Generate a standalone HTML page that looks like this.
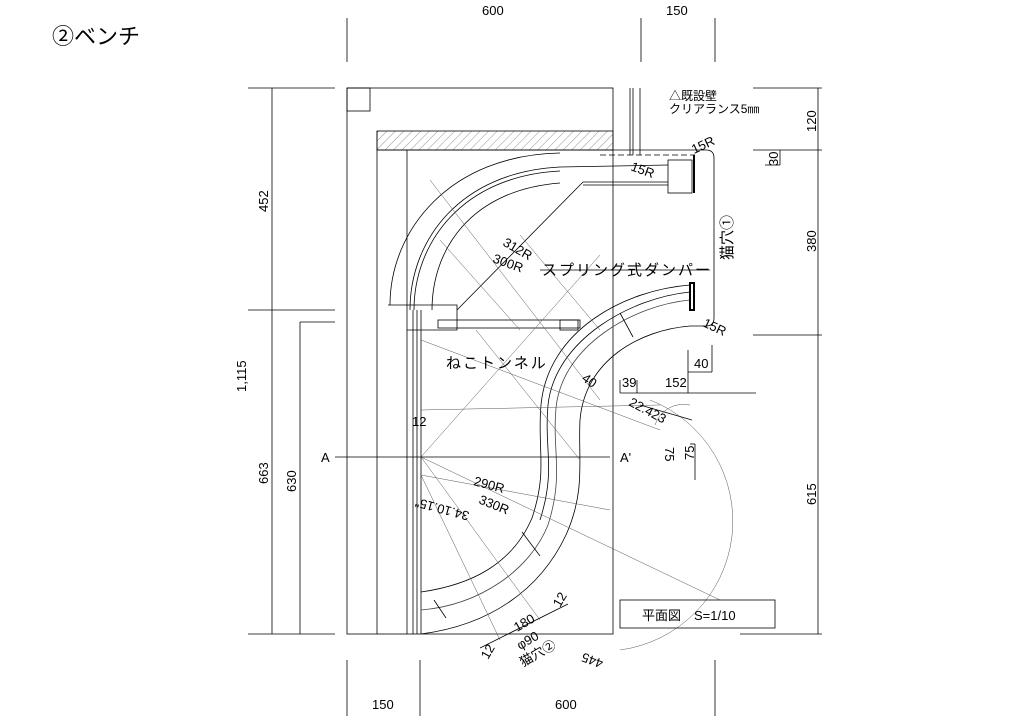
<!DOCTYPE html>
<html><head><meta charset="utf-8"><style>
html,body{margin:0;padding:0;background:#fff;}
svg{display:block;}
text{font-family:"Liberation Sans","Noto Sans CJK JP",sans-serif;fill:#000;}
</style></head><body>
<svg width="1024" height="723" viewBox="0 0 1024 723" xmlns="http://www.w3.org/2000/svg">
<defs>
<pattern id="h" width="6" height="6" patternUnits="userSpaceOnUse" patternTransform="rotate(45)">
<line x1="0" y1="0" x2="0" y2="6" stroke="#777" stroke-width="0.8"/></pattern>
</defs>
<text x="52" y="44" font-size="22">②ベンチ</text>
<g stroke="#000" stroke-width="0.8" fill="none">
<line x1="347" y1="18" x2="347" y2="62"/><line x1="641" y1="18" x2="641" y2="62"/><line x1="715" y1="18" x2="715" y2="62"/>
<line x1="347" y1="660" x2="347" y2="716"/><line x1="420" y1="660" x2="420" y2="716"/><line x1="715" y1="660" x2="715" y2="716"/>
<line x1="272" y1="88" x2="272" y2="634"/><line x1="248" y1="88" x2="335" y2="88"/>
<line x1="248" y1="310" x2="335" y2="310"/><line x1="300" y1="322" x2="300" y2="634"/><line x1="300" y1="322" x2="335" y2="322"/>
<line x1="248" y1="634" x2="335" y2="634"/>
<line x1="818" y1="88" x2="818" y2="634"/><line x1="753" y1="88" x2="822" y2="88"/>
<line x1="753" y1="150" x2="822" y2="150"/><line x1="765" y1="165" x2="780" y2="165"/><line x1="780" y1="150" x2="780" y2="165"/>
<line x1="753" y1="335" x2="822" y2="335"/><line x1="740" y1="634" x2="822" y2="634"/>
<rect x="347" y="88" width="266" height="546"/>
<rect x="347" y="88" width="23" height="23"/>
<rect x="377" y="131" width="236" height="19" fill="url(#h)"/>
<line x1="377" y1="131" x2="377" y2="634"/>
<line x1="407" y1="150" x2="407" y2="634"/>
<line x1="413" y1="310" x2="413" y2="634"/><line x1="417" y1="310" x2="417" y2="634"/><line x1="421" y1="310" x2="421" y2="634"/>
<line x1="630" y1="88" x2="630" y2="155"/><line x1="633" y1="88" x2="633" y2="155"/><line x1="640" y1="88" x2="640" y2="155"/>
<line x1="377" y1="150" x2="700" y2="150"/>
<line x1="600" y1="155" x2="695" y2="155" stroke-dasharray="6,3"/>
<path d="M700 150 H706 Q714 150 714 158 V318 Q714 326 706 326 H690"/>
<rect x="668" y="160" width="24" height="33"/>
<line x1="694" y1="155" x2="694" y2="193" stroke-width="2"/>
<line x1="583" y1="182" x2="668" y2="182"/><line x1="583" y1="185" x2="668" y2="185"/>
<line x1="583" y1="182" x2="457" y2="310"/>
<path d="M390 305 C390 230 450 155 560 153"/>
<path d="M410 310 C410 240 460 172 560 167 L668 165"/>
<path d="M414 310 C414 243 462 176 560 171"/>
<path d="M432 310 C432 250 470 190 560 183"/>
<path d="M388 305 H457 V330 H407"/>
<rect x="438" y="320" width="142" height="8"/>
<rect x="560" y="320" width="18" height="10"/>
<!-- S curve band -->
<path d="M690 285 C625 290 548 330 541 405 C537 450 548 470 532 518 C512 565 470 585 421 592"/>
<path d="M690 292 C630 298 555 340 548 405 C544 450 556 470 540 520"/>
<path d="M690 300 C635 305 562 345 556 408 C552 450 564 475 548 525 C530 570 480 605 421 610" stroke="#444"/>
<path d="M690 326 C640 330 585 360 580 420 C578 460 586 490 566 535 C540 590 490 625 421 634"/>
<rect x="690" y="283" width="4" height="27" stroke-width="2"/>
<line x1="522" y1="532" x2="540" y2="556"/><line x1="434" y1="600" x2="446" y2="618"/>
<line x1="620" y1="313" x2="633" y2="337"/>
<g stroke="#555" stroke-width="0.5">
<line x1="421" y1="457" x2="600" y2="255"/>
<line x1="421" y1="457" x2="720" y2="600"/>
<line x1="421" y1="457" x2="540" y2="620"/>
<line x1="421" y1="475" x2="610" y2="510"/>
<line x1="421" y1="475" x2="500" y2="640"/>
<line x1="421" y1="410" x2="660" y2="405"/>
<line x1="430" y1="180" x2="600" y2="400"/>
<line x1="421" y1="340" x2="660" y2="430"/>
<line x1="520" y1="235" x2="600" y2="330"/>
<line x1="476" y1="330" x2="580" y2="460"/>
<line x1="440" y1="240" x2="520" y2="330"/>
<path d="M650 400 A130 130 0 0 1 620 650" />
<path d="M655 425 A30 30 0 0 1 690 405" />
</g>
<line x1="335" y1="457" x2="610" y2="457"/>
<line x1="640" y1="405" x2="692" y2="420"/>
<line x1="620" y1="393" x2="756" y2="393"/><line x1="620" y1="380" x2="620" y2="393"/><line x1="637" y1="380" x2="637" y2="393"/><line x1="688" y1="350" x2="688" y2="393"/>
<line x1="688" y1="372" x2="712" y2="372"/><line x1="712" y1="345" x2="712" y2="372"/>
<line x1="690" y1="444" x2="695" y2="444"/><line x1="695" y1="444" x2="695" y2="480"/>
<line x1="480" y1="648" x2="568" y2="604"/>
<line x1="540" y1="270" x2="710" y2="270"/>
<rect x="620" y="600" width="155" height="28"/>
</g>
<g font-size="13">
<text x="482" y="15">600</text><text x="666" y="15">150</text>
<text x="372" y="709">150</text><text x="555" y="709">600</text>
<text x="669" y="100" font-size="12">△既設壁</text>
<text x="669" y="113" font-size="12">クリアランス5㎜</text>
<text transform="translate(268,212) rotate(-90)">452</text>
<text transform="translate(246,392) rotate(-90)">1,115</text>
<text transform="translate(268,484) rotate(-90)">663</text>
<text transform="translate(296,492) rotate(-90)">630</text>
<text transform="translate(816,132) rotate(-90)">120</text>
<text transform="translate(778,166) rotate(-90)">30</text>
<text transform="translate(816,252) rotate(-90)">380</text>
<text transform="translate(816,505) rotate(-90)">615</text>
<text transform="translate(732,260) rotate(-90)" font-size="15">猫穴①</text>
<text x="542" y="275" font-size="15" letter-spacing="2">スプリング式ダンパー</text>
<text x="446" y="368" font-size="15" letter-spacing="2">ねこトンネル</text>
<text transform="translate(502,245) rotate(30)">312R</text>
<text transform="translate(492,262) rotate(20)">300R</text>
<text transform="translate(630,170) rotate(20)">15R</text>
<text transform="translate(694,154) rotate(-25)">15R</text>
<text transform="translate(702,326) rotate(25)">15R</text>
<text transform="translate(581,380) rotate(35)">40</text><text x="694" y="368">40</text>
<text x="622" y="387">39</text><text x="665" y="387">152</text>
<text transform="translate(628,405) rotate(28)">22.423</text>
<text x="412" y="426">12</text>
<text x="321" y="462">A</text><text x="620" y="462">A'</text>
<text transform="translate(665,447) rotate(90)">75</text>
<text transform="translate(694,460) rotate(-90)">75</text>
<text transform="translate(473,485) rotate(15)">290R</text>
<text transform="translate(478,503) rotate(22)">330R</text>
<text transform="translate(470,512) rotate(195)">34.10.15"</text>
<text transform="translate(560,608) rotate(-60)">12</text>
<text transform="translate(517,632) rotate(-30)">180</text>
<text transform="translate(520,650) rotate(-30)">φ90</text>
<text transform="translate(523,667) rotate(-30)">猫穴②</text>
<text transform="translate(488,660) rotate(-60)">12</text>
<text transform="translate(604,660) rotate(200)">445</text>
<text x="642" y="620">平面図　S=1/10</text>
</g>
</svg>
</body></html>
